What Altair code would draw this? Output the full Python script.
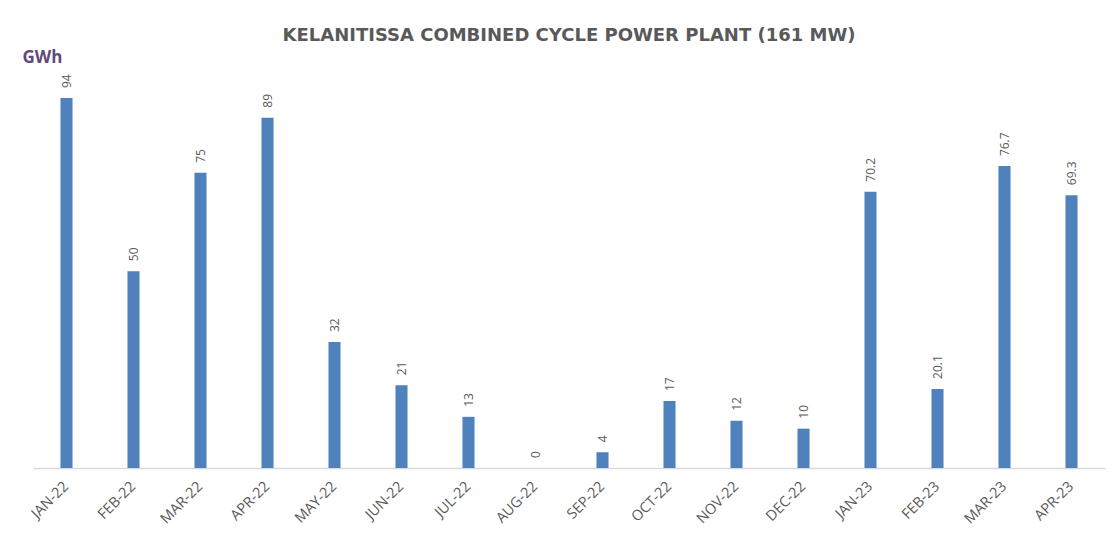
import altair as alt
import pandas as pd

months = ["JAN-22", "FEB-22", "MAR-22", "APR-22", "MAY-22", "JUN-22", "JUL-22", "AUG-22",
          "SEP-22", "OCT-22", "NOV-22", "DEC-22", "JAN-23", "FEB-23", "MAR-23", "APR-23"]
gwh = [94, 50, 75, 89, 32, 21, 13, 0, 4, 17, 12, 10, 70.2, 20.1, 76.7, 69.3]
chart_title = "KELANITISSA COMBINED CYCLE POWER PLANT (161 MW)"
unit_label = "GWh"

df = pd.DataFrame({"month": months, "gwh": gwh})

x = alt.X(
    "month:N", sort=None,
    scale=alt.Scale(paddingInner=0.82, paddingOuter=0.41),
    axis=alt.Axis(title=None, labelAngle=-45, labelAlign="right", labelBaseline="middle",
                  labelPadding=16, labelFontSize=14.5, labelColor="#595959",
                  labelFont="Open Sans", ticks=False, domainColor="#D9D9D9",
                  domainWidth=1.5, grid=False),
)
y = alt.Y(
    "gwh:Q",
    scale=alt.Scale(domain=[0, 100], nice=False, zero=True),
    axis=alt.Axis(title=unit_label, titleAngle=0, titleAlign="left", titleX=-11, titleY=-12,
                  titleBaseline="alphabetic", titleFont="Open Sans", titleFontSize=17,
                  titleColor="#60497A", titleFontWeight="bold",
                  labels=False, ticks=False, domain=False, grid=False),
)

base = alt.Chart(df)
bars = base.mark_bar(color="#4F81BD").encode(x=x, y=y)
labels = base.mark_text(angle=270, align="left", baseline="middle", dx=10,
                        fontSize=12, color="#595959", font="Open Sans").encode(
    x=alt.X("month:N", sort=None), y=alt.Y("gwh:Q"), text=alt.Text("gwh:Q"))

chart = (bars + labels).properties(
    width=1072, height=393.6,
    title=alt.TitleParams(chart_title, font="DejaVu Sans", fontSize=18, fontWeight="bold",
                          color="#595959", anchor="middle", baseline="alphabetic", offset=-11),
    autosize=alt.AutoSizeParams(type="none"),
    padding={"left": 25, "top": 66.4, "right": 6, "bottom": 68},
    background="white",
).configure_view(stroke=None)

chart.save("out.html", embed_options={"renderer": "svg", "actions": False})
